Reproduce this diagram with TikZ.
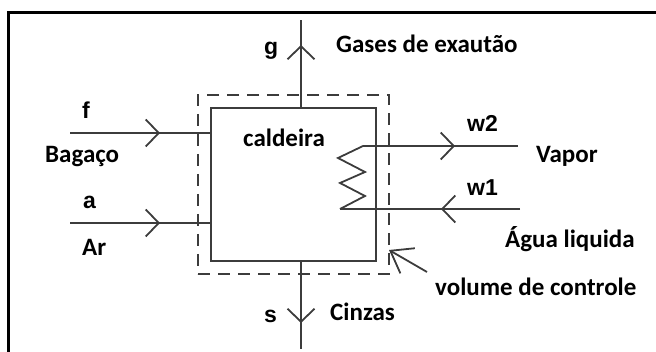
\documentclass[tikz,border=0pt]{standalone}
\usepackage{fontspec}
\setmainfont{Carlito}
\newfontfamily\arialfont{Liberation Sans}
\usetikzlibrary{arrows.meta, positioning, fit, calc, decorations.markings}
\definecolor{linegray}{RGB}{60,60,60}

\begin{document}
\begin{tikzpicture}[
  x=1pt, y=-1pt,
  line/.style={draw=linegray, line width=1.8pt},
  flow/.style={line, postaction={decorate},
    decoration={markings, mark=at position #1 with {\arrow[linegray]{Straight Barb[length=13pt, width=27pt, line width=1.8pt]}}}},
  boiler/.style={line, minimum width=165pt, minimum height=153pt, inner sep=0pt, outer sep=0pt},
  cvbox/.style={line, dashed, dash pattern=on 12pt off 8pt, inner sep=13pt, outer sep=0pt},
  cvarrow/.style={line, -{Straight Barb[length=20pt, width=29pt, line width=1.8pt]}},
  word/.style={inner sep=0pt, anchor=base west, font=\bfseries\fontsize{25}{30}\selectfont},
  letter/.style={inner sep=0pt, anchor=base west, font=\fontsize{23}{28}\selectfont\arialfont\bfseries}
]

  \useasboundingbox (0,0) rectangle (656,352);
  % moldura
  \draw[line width=3pt] (8,360) -- (8,13) -- (665,13);

  % caldeira e volume de controle
  \node[boiler] (box) at (293.5,184.5) {};
  \node[cvbox, fit=(box)] (cv) {};
  \node[word] (caldeira) at (243,147) {caldeira};

  % pontas livres
  \coordinate (fIn) at (70,133);
  \coordinate (aIn) at (70,223);
  \coordinate (gOut) at (301,20);
  \coordinate (sOut) at (301,349);
  \coordinate (w2Out) at (518,146);
  \coordinate (w1In) at (520,209);
  \coordinate (coilTop) at (363,146);
  \coordinate (coilBot) at (340,209);
  \coordinate (cvTail) at (427,272);

  % serpentina
  \draw[line] (coilTop) -- ++(-25,12) -- ++(27,14) -- ++(-25,11) -- ++(25,13) -- (coilBot);

  % fluxos
  \draw[flow=90pt] (fIn) -- (box.west |- fIn);
  \draw[flow=90pt] (aIn) -- (box.west |- aIn);
  \draw[flow=63pt] (gOut |- box.north) -- (gOut);
  \draw[flow=62pt] (sOut |- box.south) -- (sOut);
  \draw[flow=92pt] (coilTop) -- (w2Out);
  \draw[flow=79pt] (w1In) -- (coilBot);
  \draw[cvarrow] (cvTail) -- ($(cv.south east)+(0,-24)$);

  % rotulos
  \node[letter] (gLbl) at (264,55) {g};
  \node[word] (gases) at (336,53) {Gases de exautão};
  \node[letter] (fLbl) at (82,119) {f};
  \node[word] (bagaco) at (45,163) {Bagaço};
  \node[letter] (aLbl) at (83,209) {a};
  \node[word] (ar) at (82,256) {Ar};
  \node[letter] (w2Lbl) at (467,132) {w2};
  \node[word] (vapor) at (536,163) {Vapor};
  \node[letter] (w1Lbl) at (467,196) {w1};
  \node[word] (agua) at (505,248) {Água liquida};
  \node[word] (volume) at (435,296) {volume de controle};
  \node[letter] (sLbl) at (264,323) {s};
  \node[word] (cinzas) at (330,321) {Cinzas};

\end{tikzpicture}
\end{document}
